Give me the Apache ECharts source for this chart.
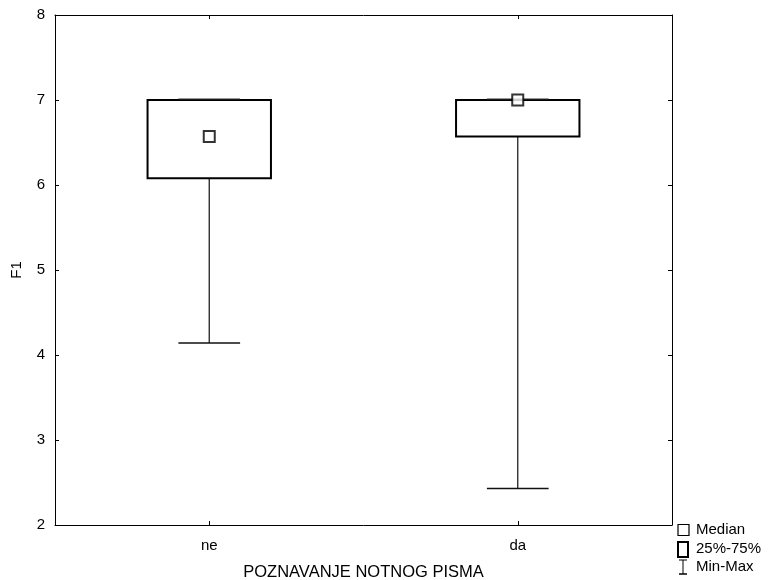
<!DOCTYPE html>
<html>
<head>
<meta charset="utf-8">
<script src="https://cdn.jsdelivr.net/npm/echarts@6/dist/echarts.min.js"></script>
<style>
html,body{margin:0;padding:0;background:#fff;}
#chart{width:769px;height:580px;}
</style>
</head>
<body>
<div id="chart"></div>
<script>
const categories = ['ne', 'da'];
const minVals = [4.14, 2.43];
const q1Vals = [6.08, 6.57];
const medianVals = [6.57, 7.0];
const q3Vals = [7.0, 7.0];
const maxVals = [7.0, 7.0];
const yMin = 2, yMax = 8, yStep = 1;
const xTitle = 'POZNAVANJE NOTNOG PISMA';
const yTitle = 'F1';
const legendLabels = ['Median', '25%-75%', 'Min-Max'];

const FONT = 'Liberation Sans, Arial, sans-serif';
const boxData = categories.map((c, i) => [i, minVals[i], q1Vals[i], medianVals[i], q3Vals[i], maxVals[i]]);

const chart = echarts.init(document.getElementById('chart'));

function renderBox(params, api) {
  const idx = api.value(0);
  const x = api.coord([idx, 0])[0];
  const band = api.size([1, 0])[0];
  const yLo = api.coord([idx, api.value(1)])[1];
  const yQ1 = api.coord([idx, api.value(2)])[1];
  const yQ3 = api.coord([idx, api.value(4)])[1];
  const yHi = api.coord([idx, api.value(5)])[1];
  const boxW = band * 0.4;
  const capW = band * 0.2;
  const whisk = { stroke: '#222', lineWidth: 1.3 };
  const children = [];
  children.push({ type: 'line', shape: { x1: x, y1: yQ1, x2: x, y2: yLo }, style: whisk });
  if (yHi < yQ3) children.push({ type: 'line', shape: { x1: x, y1: yQ3, x2: x, y2: yHi }, style: whisk });
  children.push({ type: 'rect', shape: { x: x - boxW / 2, y: yQ3, width: boxW, height: yQ1 - yQ3 },
    style: { fill: '#fff', stroke: '#000', lineWidth: 2 } });
  children.push({ type: 'line', shape: { x1: x - capW / 2, y1: yLo, x2: x + capW / 2, y2: yLo }, style: { stroke: '#111', lineWidth: 1.5 } });
  children.push({ type: 'line', shape: { x1: x - capW / 2, y1: yHi - 1, x2: x + capW / 2, y2: yHi - 1 }, style: { stroke: '#333', lineWidth: 1.2 } });
  return { type: 'group', children };
}

const lx = 678, ly = [530, 549, 567];
const legendGraphics = [
  { type: 'rect', shape: { x: lx, y: ly[0] - 5.5, width: 11, height: 11 }, style: { fill: '#fff', stroke: '#000', lineWidth: 1.2 } },
  { type: 'rect', shape: { x: lx, y: ly[1] - 7, width: 10, height: 15 }, style: { fill: '#fff', stroke: '#000', lineWidth: 2 } },
  { type: 'line', shape: { x1: lx + 5, y1: ly[2] - 7, x2: lx + 5, y2: ly[2] + 7 }, style: { stroke: '#000', lineWidth: 1 } },
  { type: 'line', shape: { x1: lx + 1, y1: ly[2] - 7, x2: lx + 9, y2: ly[2] - 7 }, style: { stroke: '#000', lineWidth: 1 } },
  { type: 'line', shape: { x1: lx + 1, y1: ly[2] + 7, x2: lx + 9, y2: ly[2] + 7 }, style: { stroke: '#000', lineWidth: 1.5 } }
].concat(legendLabels.map((t, i) => ({
  type: 'text', x: 696, y: ly[i],
  style: { text: t, font: '15px ' + FONT, fill: '#000', verticalAlign: 'middle', align: 'left' }
})));

const axisLine = { show: true, lineStyle: { color: '#000', width: 1 } };
const tick = { show: true, inside: true, length: 4, lineStyle: { color: '#000' } };

chart.setOption({
  animation: false,
  backgroundColor: '#fff',
  grid: { left: 55, right: 97, top: 15, bottom: 55, containLabel: false, outerBoundsMode: 'none' },
  xAxis: [
    {
      type: 'category', data: categories, position: 'bottom',
      axisLine, axisTick: Object.assign({ alignWithLabel: true }, tick),
      axisLabel: { color: '#000', fontSize: 15, fontFamily: FONT, margin: 13 },
      name: xTitle, nameLocation: 'middle', nameGap: 39,
      nameTextStyle: { color: '#000', fontSize: 16.5, fontFamily: FONT },
      splitLine: { show: false }
    },
    {
      type: 'category', data: categories, position: 'top',
      axisLine, axisTick: Object.assign({ alignWithLabel: true }, tick),
      axisLabel: { show: false }, splitLine: { show: false }
    }
  ],
  yAxis: [
    {
      type: 'value', min: yMin, max: yMax, interval: yStep, position: 'left',
      axisLine, axisTick: tick,
      axisLabel: { color: '#000', fontSize: 15, fontFamily: FONT, margin: 10 },
      name: yTitle, nameLocation: 'middle', nameGap: 31,
      nameTextStyle: { color: '#000', fontSize: 15, fontFamily: FONT },
      splitLine: { show: false }
    },
    {
      type: 'value', min: yMin, max: yMax, interval: yStep, position: 'right',
      axisLine, axisTick: tick, axisLabel: { show: false }, splitLine: { show: false }
    }
  ],
  series: [
    {
      type: 'custom', renderItem: renderBox, data: boxData,
      encode: { x: 0, y: [1, 2, 3, 4, 5] }, z: 2
    },
    {
      type: 'scatter', data: medianVals, symbol: 'rect', symbolSize: 11,
      itemStyle: { color: '#fff', borderColor: '#000', borderWidth: 2 }, z: 5
    }
  ],
  graphic: legendGraphics
});
</script>
</body>
</html>
